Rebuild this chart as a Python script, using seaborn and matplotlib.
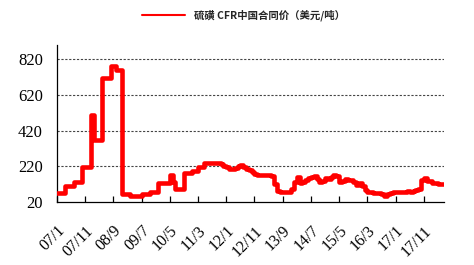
import numpy as np
import pandas as pd
import matplotlib
matplotlib.use("Agg")
import matplotlib.pyplot as plt
import seaborn as sns

# Monthly sulfur CFR China contract price (USD/t), Jan 2007 onward
prices = [
    72, 72, 72, 111, 111, 111, 133, 133, 133, 217,
    217, 217, 506, 367, 367, 367, 713, 713, 713, 780,
    780, 762, 762, 65, 65, 65, 55, 55, 55, 55,
    65, 65, 65, 78, 78, 78, 125, 125, 125, 125,
    171, 134, 91, 91, 91, 180, 180, 180, 195, 195,
    217, 217, 236, 236, 236, 236, 236, 236, 230, 221,
    215, 203, 203, 210, 220, 227, 215, 203, 200, 189,
    175, 171, 171, 171, 171, 171, 165, 120, 80, 78,
    78, 78, 78, 91, 130, 161, 125, 130, 145, 152,
    160, 165, 150, 134, 140, 152, 147, 160, 171, 165,
    134, 140, 147, 145, 143, 130, 115, 128, 112, 85,
    78, 75, 72, 70, 69, 65, 55, 62, 72, 75,
    78, 78, 76, 78, 80, 78, 82, 88, 91, 143,
    152, 140, 135, 128, 128, 121, 121, 118,
]
tick_labels = ["07/1", "07/11", "08/9", "09/7", "10/5", "11/3", "12/1",
               "12/11", "13/9", "14/7", "15/5", "16/3", "17/1", "17/11"]
y_ticks = [20, 220, 420, 620, 820]
legend_label = "硫磺 CFR中国合同价（美元/吨）"

df = pd.DataFrame({"month": np.arange(len(prices)), "price": prices})

sns.set_theme(style="white")
plt.rcParams["font.family"] = ["Liberation Serif", "Noto Sans CJK SC", "DejaVu Sans"]

fig = plt.figure(figsize=(4.74, 2.65), dpi=100)
ax = fig.add_axes([0.120, 0.238, 0.817, 0.592])

sns.lineplot(data=df, x="month", y="price", ax=ax, color="#FF0000",
             linewidth=3.3, drawstyle="steps-post", label=legend_label,
             legend=False, zorder=3)

ax.set_xlim(0, 137.2)
ax.set_ylim(20, 900)
ax.set_yticks(y_ticks)
ax.set_yticklabels([str(v) for v in y_ticks], fontsize=12)
ax.set_xticks(np.arange(len(tick_labels)) * 10)
ax.set_xticklabels(tick_labels, fontsize=11.5, rotation=45, ha="right",
                   rotation_mode="anchor")
ax.set_xlabel("")
ax.set_ylabel("")

for v in y_ticks[1:]:
    ax.axhline(v, color="#444444", linewidth=0.8, linestyle=(0, (2, 1.5)), zorder=1)

for s in ["top", "right"]:
    ax.spines[s].set_visible(False)
for s in ["left", "bottom"]:
    ax.spines[s].set_color("black")
    ax.spines[s].set_linewidth(0.9)

ax.tick_params(axis="y", length=0, pad=10, colors="black")
ax.tick_params(axis="x", direction="in", length=4, width=0.9, pad=15,
               colors="black", bottom=True)

leg = fig.legend(loc="center", bbox_to_anchor=(0.513, 0.943), frameon=False,
                 handlelength=4.2, handletextpad=0.8,
                 prop={"family": ["Noto Sans CJK SC", "DejaVu Sans"],
                       "size": 7.5, "weight": "bold"})
for line in leg.get_lines():
    line.set_linewidth(1.5)

fig.savefig("out.png", dpi=100)
